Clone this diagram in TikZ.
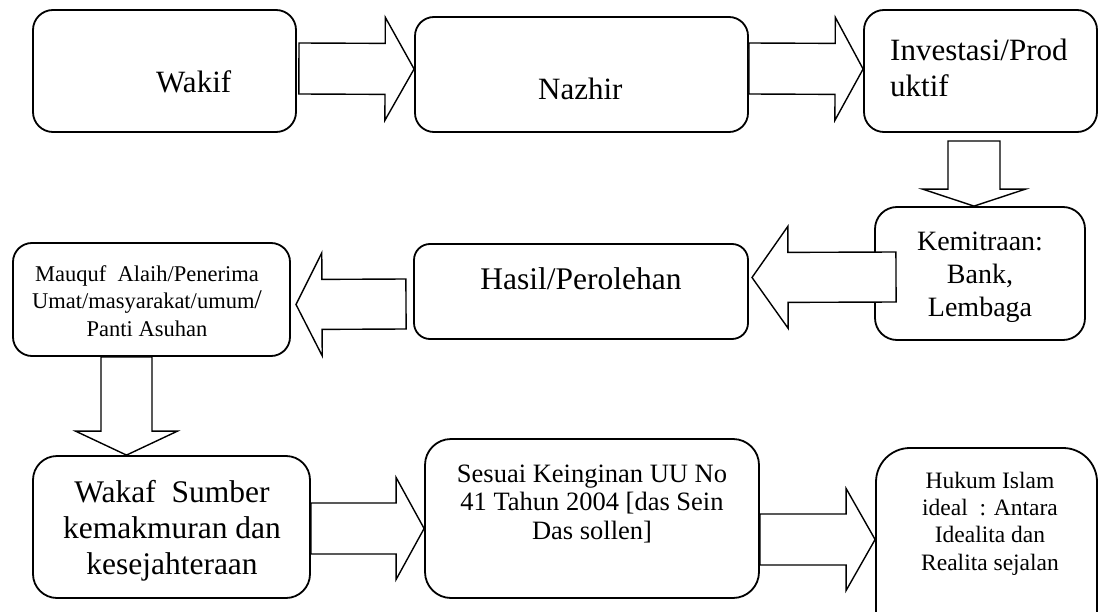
\documentclass[tikz,border=0pt]{standalone}
\usepackage{fontspec}
\setmainfont{Liberation Serif}
\usetikzlibrary{calc}

% font size helper: size and line distance in pt
\newcommand\fsz[2]{\fontsize{#1}{#2}\selectfont}
% invisible strut that fixes the height of a first text line
\newcommand\topstrut{\rule{0pt}{0.75em}}

% hollow block arrow from #1 to tip #2:
% #3 half shaft width, #4 half head width, #5 head length
\newcommand\blockarrow[5]{%
  \coordinate (ba-h) at ($(#2)!#5!(#1)$);
  \draw[blockarrow]
    ($(#1)!#3!90:(#2)$) -- ($(ba-h)!#3!90:(#2)$) -- ($(ba-h)!#4!90:(#2)$)
    -- (#2)
    -- ($(ba-h)!#4!-90:(#2)$) -- ($(ba-h)!#3!-90:(#2)$) -- ($(#1)!#3!-90:(#2)$)
    -- cycle;}

\tikzset{
  box/.style={draw=black, line width=1.8pt, fill=white, inner sep=0pt},
  blockarrow/.style={draw=black, line width=1.4pt, fill=white, line join=miter},
  txt/.style={inner sep=0pt, align=center, text=black},
}

\begin{document}
\begin{tikzpicture}[x=1pt, y=-1pt]
  \useasboundingbox (0,0) rectangle (1099,612);
  \fill[white] (0,0) rectangle (1099,612);
  \clip (0,0) rectangle (1099,612);

  % ---- boxes ----
  \node[box, rounded corners=20pt, minimum width=263pt, minimum height=122pt] (wakif)     at (164.5,71)   {};
  \node[box, rounded corners=19pt, minimum width=333pt, minimum height=115pt] (nazhir)    at (581.5,74.5) {};
  \node[box, rounded corners=20pt, minimum width=233pt, minimum height=122pt] (invest)    at (980.5,71)   {};
  \node[box, rounded corners=22pt, minimum width=210pt, minimum height=133pt] (kemitraan) at (980,273.5)  {};
  \node[box, rounded corners=16pt, minimum width=334pt, minimum height=95pt]  (hasil)     at (581,291.5)  {};
  \node[box, rounded corners=19pt, minimum width=277pt, minimum height=113pt] (mauquf)    at (151.5,299.5){};
  \node[box, rounded corners=24pt, minimum width=277pt, minimum height=142pt] (wakaf)     at (171.5,527)  {};
  \node[box, rounded corners=26pt, minimum width=334pt, minimum height=159pt] (sesuai)    at (592,518.5)  {};
  \node[box, rounded corners=34pt, minimum width=221pt, minimum height=202pt] (hukum)     at (986.5,549)  {};

  % ---- connector end points ----
  \coordinate (a1s) at ([xshift=2pt]wakif.east |- 0,68.5);
  \coordinate (a1t) at (nazhir.west |- 0,69);
  \coordinate (a2s) at (nazhir.east |- 0,68.5);
  \coordinate (a2t) at (invest.west |- 0,69);
  \coordinate (a3s) at (974,141);
  \coordinate (a3t) at (kemitraan.north -| 974,0);
  \coordinate (a4s) at (896,277);
  \coordinate (a4t) at (752,277.5);
  \coordinate (a5s) at (406,304);
  \coordinate (a5t) at (296,304.5);
  \coordinate (a6s) at (mauquf.south -| 126.5,0);
  \coordinate (a6t) at (wakaf.north -| 126.5,0);
  \coordinate (a7s) at (wakaf.east |- 0,528.5);
  \coordinate (a7t) at (sesuai.west |- 0,528.5);
  \coordinate (a8s) at (sesuai.east |- 0,539.5);
  \coordinate (a8t) at (hukum.west |- 0,539.5);

  % ---- block arrows ----
  \blockarrow{a1s}{a1t}{25.5pt}{51.5pt}{29pt}
  \blockarrow{a2s}{a2t}{25.5pt}{51.5pt}{28pt}
  \blockarrow{a3s}{a3t}{26pt}{51.5pt}{17pt}
  \blockarrow{a4s}{a4t}{25pt}{51pt}{36pt}
  \blockarrow{a5s}{a5t}{25pt}{51.5pt}{26pt}
  \blockarrow{a6s}{a6t}{25.5pt}{51pt}{24pt}
  \blockarrow{a7s}{a7t}{25.5pt}{51pt}{28pt}
  \blockarrow{a8s}{a8t}{25.5pt}{51pt}{29pt}

  % ---- texts ----
  \node[txt, anchor=base west, font=\fsz{31}{36}] (t-wakif)  at (156,93)  {Wakif};
  \node[txt, anchor=base west, font=\fsz{31}{36}] (t-nazhir) at (538,100) {Nazhir};
  \node[txt, anchor=north west, align=left, font=\fsz{31}{36}] (t-invest) at (890,36.8)
    {\topstrut Investasi/Prod\\uktif};
  \node[txt, anchor=north, font=\fsz{28}{33}] (t-kemitraan) at (980,229)
    {\topstrut Kemitraan:\\Bank,\\Lembaga};
  \node[txt, anchor=base, font=\fsz{31.5}{36}] (t-hasil) at (581,289) {Hasil/Perolehan};
  \node[txt, anchor=north, font=\fsz{22.5}{27.5}] (t-mauquf) at (147,264.1)
    {\topstrut Mauquf\ \ Alaih/Penerima\\Umat/masyarakat/umum{\fsz{27}{27}/}\\Panti Asuhan};
  \node[txt, anchor=north, font=\fsz{31.5}{36}] (t-wakaf) at (172,478.4)
    {\topstrut Wakaf\ \ Sumber\\kemakmuran dan\\kesejahteraan};
  \node[txt, anchor=north, font=\fsz{26.5}{28.5}] (t-sesuai) at (592,462.1)
    {\topstrut Sesuai Keinginan UU No\\41 Tahun 2004 [das Sein\\Das sollen]};
  \node[txt, anchor=north, font=\fsz{23.5}{27.3}] (t-hukum) at (990,470.4)
    {\topstrut Hukum Islam\\ideal\ \ : Antara\\Idealita dan\\Realita sejalan};
\end{tikzpicture}
\end{document}
